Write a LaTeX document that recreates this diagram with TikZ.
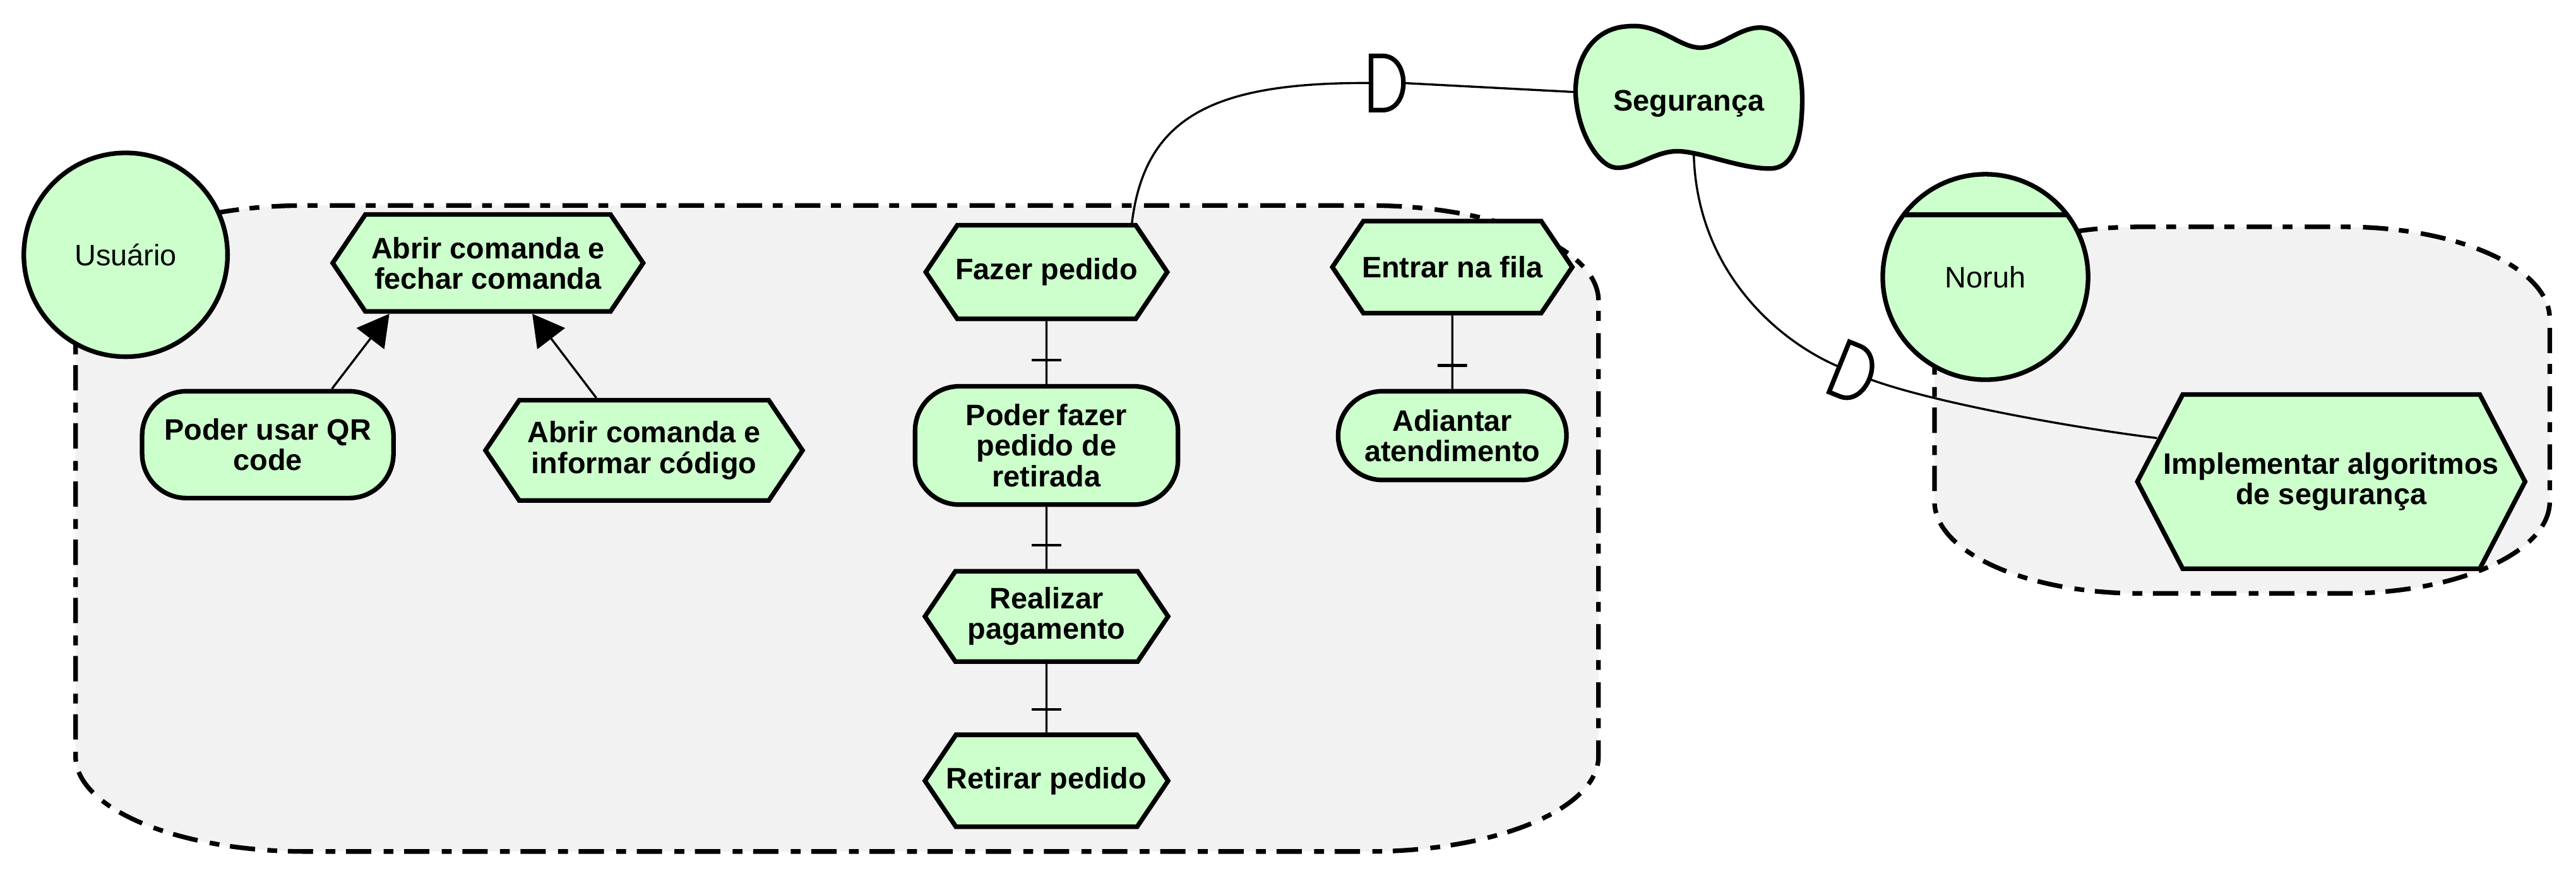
\documentclass[tikz,border=0pt]{standalone}
\usepackage{fontspec}
\setmainfont{Liberation Sans}
\usetikzlibrary{positioning,calc,shapes.symbols,arrows.meta}
\definecolor{nodegreen}{HTML}{CCFFCC}
\definecolor{groupgray}{HTML}{F2F2F2}

\begin{document}
\begin{tikzpicture}[x=1pt,y=1pt]
                    \tikzstyle{every node}=[font=\fontsize{18}{18.5}\selectfont,align=center,inner sep=2]
                    \tikzstyle{group}=[fill=groupgray,line width=2.8,dash pattern=on 15.4pt off 6.5pt on 6pt off 7.5pt]
                    \tikzstyle{hexa}=[signal,signal to=west and east,signal pointer angle=112,draw,line width=2.8,fill=nodegreen,inner xsep=-12,font=\fontsize{18}{18.5}\selectfont\bfseries]
                    \tikzstyle{goal}=[rectangle,rounded corners=27,draw,line width=2.8,fill=nodegreen,font=\fontsize{18}{18.5}\selectfont\bfseries]
                    \tikzstyle{actor}=[circle,draw,line width=2.8,fill=nodegreen,minimum size=124]
                    \tikzstyle{conn}=[line width=1.3]
                    \tikzstyle{tick}=[draw,line width=1.6,minimum width=18,minimum height=0,inner sep=0,outer sep=0]
                    \tikzstyle{dmark}=[draw,fill=white,line width=2.8]
                    {
                        \useasboundingbox (0,0) rectangle (1568,-535);

                        \draw[group] (46,-183) arc[start angle=180,end angle=90,x radius=140,y radius=58]
                            -- (833,-125) arc[start angle=90,end angle=0,x radius=140,y radius=58]
                            -- (973,-460) arc[start angle=0,end angle=-90,x radius=140,y radius=58]
                            -- (186,-518) arc[start angle=270,end angle=180,x radius=140,y radius=58] -- cycle;
                        \draw[group] (1177.5,-194) arc[start angle=180,end angle=90,x radius=125,y radius=56]
                            -- (1427,-138) arc[start angle=90,end angle=0,x radius=125,y radius=56]
                            -- (1552,-305) arc[start angle=0,end angle=-90,x radius=125,y radius=56]
                            -- (1302.5,-361) arc[start angle=270,end angle=180,x radius=125,y radius=56] -- cycle;

                        \draw[line width=2.8,fill=nodegreen] (991,-16) .. controls (1010,-14) and (1022,-29) .. (1035,-29)
                            .. controls (1048,-29) and (1060,-15) .. (1074,-17)
                            .. controls (1090,-19) and (1097,-40) .. (1097,-60)
                            .. controls (1097,-85) and (1092,-102) .. (1078,-102.5)
                            .. controls (1060,-103) and (1035,-92) .. (1021,-92)
                            .. controls (1007,-92) and (995,-103) .. (983.5,-102)
                            .. controls (974,-101.5) and (960,-82) .. (959,-56)
                            .. controls (959,-35) and (970,-17) .. (991,-16) -- cycle;

                        \node[actor] (usuario) at (76.5,-155) {Usuário};
                        \node[hexa,minimum width=189,minimum height=59] (abrirfechar) at (297,-160) {Abrir comanda e\\fechar comanda};
                        \node[goal,minimum width=153,minimum height=65] (qrcode) at (163,-270.5) {Poder usar QR\\code};
                        \node[hexa,minimum width=193,minimum height=61] (abririnf) at (392,-274) {Abrir comanda e\\informar código};

                        \node[hexa,minimum width=147,minimum height=57] (fazer) at (637,-165.5) {Fazer pedido};
                        \node[goal,minimum width=160,minimum height=72,node distance=105.5] (retirada) [below of=fazer] {Poder fazer\\pedido de\\retirada};
                        \node[hexa,minimum width=148,minimum height=55,node distance=104] (pagamento) [below of=retirada] {Realizar\\pagamento};
                        \node[hexa,minimum width=148,minimum height=56,node distance=100] (retirar) [below of=pagamento] {Retirar pedido};

                        \node[hexa,minimum width=146,minimum height=56] (fila) at (884,-162.5) {Entrar na fila};
                        \node[goal,minimum width=139,minimum height=54,node distance=102.5] (adiantar) [below of=fila] {Adiantar\\atendimento};

                        \node[minimum width=138,minimum height=87,font=\fontsize{18}{18.5}\selectfont\bfseries] (seg) at (1028,-63) {Segurança};
                        \node[actor,minimum size=125,path picture={\draw[line width=2.8] ([shift={(-70,37.8)}]path picture bounding box.center) -- ++(140,0);}] (noruh) at (1208.5,-168.5) {Noruh};
                        \node[hexa,signal pointer angle=125,minimum width=236,minimum height=106] (impl) at (1419,-293) {Implementar algoritmos\\de segurança};

                        \draw[conn,-{Triangle[length=19pt,width=21pt]}] ([xshift=39]qrcode.north) -- ([xshift=-60]abrirfechar.south);
                        \draw[conn,-{Triangle[length=19pt,width=21pt]}] ([xshift=-29]abririnf.north) -- ([xshift=27]abrirfechar.south);

                        \path[conn]
                            (fazer) edge node[tick,pos=0.62] {} (retirada)
                            (retirada) edge node[tick,pos=0.62] {} (pagamento)
                            (pagamento) edge node[tick,pos=0.66] {} (retirar)
                            (fila) edge node[tick,pos=0.68] {} (adiantar);

                        \coordinate (d1) at (834.5,-50.5);
                        \coordinate (d2) at (1119.5,-223.2);
                        \draw[conn] ([xshift=52]fazer.north) .. controls (697,-70) and (740,-50) .. (d1);
                        \draw[conn] ([xshift=19.5]d1) -- ([yshift=7]seg.west);
                        \draw[conn] ([xshift=3,yshift=12.5]seg.south) .. controls (1033,-165) and (1082,-207.3) .. (d2);
                        \draw[conn] ($(d2)+(-22:19.5)$) .. controls (1175,-244.5) and (1260,-260) .. ([shift={(13.5,26.5)}]impl.west);
                        \draw[dmark,shift={(d1)}] (0,-16.5) -- (7,-16.5) .. controls (24,-16.5) and (24,16.5) .. (7,16.5) -- (0,16.5) -- cycle;
                        \draw[dmark,shift={(d2)},rotate=-22] (0,-16.5) -- (7,-16.5) .. controls (24,-16.5) and (24,16.5) .. (7,16.5) -- (0,16.5) -- cycle;
                    }
                \end{tikzpicture}
\end{document}
